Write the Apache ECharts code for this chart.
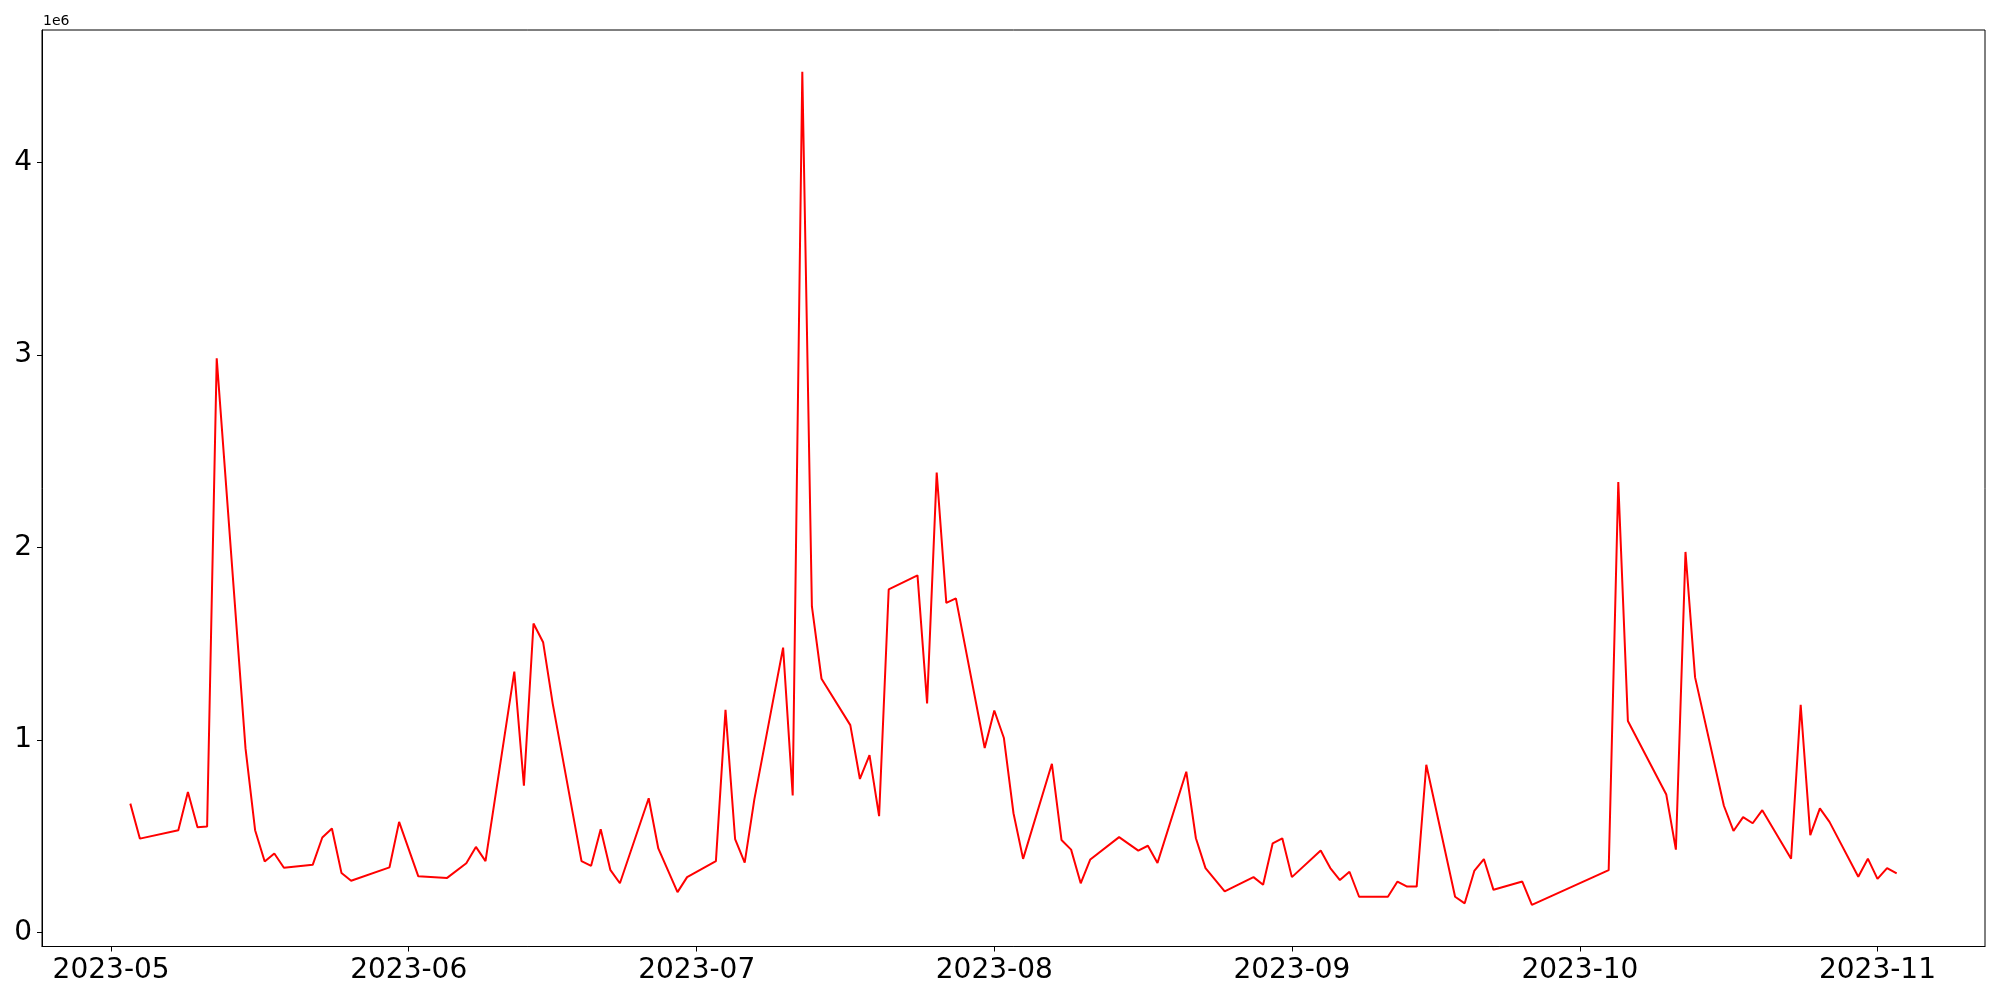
<!DOCTYPE html>
<html>
<head>
<meta charset="utf-8">
<script src="https://cdn.jsdelivr.net/npm/echarts@6/dist/echarts.min.js"></script>
<style>
html,body{margin:0;padding:0;background:#fff;}
#chart{width:2000px;height:1000px;}
</style>
</head>
<body>
<div id="chart"></div>
<script>
// ---- data ----
const dates = [
"2023-05-03","2023-05-04","2023-05-08","2023-05-09","2023-05-10","2023-05-11","2023-05-12",
"2023-05-15","2023-05-16","2023-05-17","2023-05-18","2023-05-19",
"2023-05-22","2023-05-23","2023-05-24","2023-05-25","2023-05-26",
"2023-05-30","2023-05-31","2023-06-02",
"2023-06-05","2023-06-07","2023-06-08","2023-06-09",
"2023-06-12","2023-06-13","2023-06-14","2023-06-15","2023-06-16",
"2023-06-19","2023-06-20","2023-06-21","2023-06-22","2023-06-23",
"2023-06-26","2023-06-27","2023-06-29","2023-06-30",
"2023-07-03","2023-07-04","2023-07-05","2023-07-06","2023-07-07",
"2023-07-10","2023-07-11","2023-07-12","2023-07-13","2023-07-14",
"2023-07-17","2023-07-18","2023-07-19","2023-07-20","2023-07-21",
"2023-07-24","2023-07-25","2023-07-26","2023-07-27","2023-07-28",
"2023-07-31","2023-08-01","2023-08-02","2023-08-03","2023-08-04",
"2023-08-07","2023-08-08","2023-08-09","2023-08-10","2023-08-11",
"2023-08-14","2023-08-16","2023-08-17","2023-08-18",
"2023-08-21","2023-08-22","2023-08-23","2023-08-25",
"2023-08-28","2023-08-29","2023-08-30","2023-08-31","2023-09-01",
"2023-09-04","2023-09-05","2023-09-06","2023-09-07","2023-09-08",
"2023-09-11","2023-09-12","2023-09-13","2023-09-14","2023-09-15",
"2023-09-18","2023-09-19","2023-09-20","2023-09-21","2023-09-22",
"2023-09-25","2023-09-26",
"2023-10-04","2023-10-05","2023-10-06",
"2023-10-10","2023-10-11","2023-10-12","2023-10-13",
"2023-10-16","2023-10-17","2023-10-18","2023-10-19","2023-10-20",
"2023-10-23","2023-10-24","2023-10-25","2023-10-26","2023-10-27",
"2023-10-30","2023-10-31","2023-11-01","2023-11-02","2023-11-03"
];
const values = [
669000,487000,531000,729000,546000,550000,2983000,
956000,531000,368000,410000,336000,
351000,493000,540000,308000,268000,
338000,574000,291000,
283000,359000,444000,370000,
1355000,762000,1605000,1508000,1189000,
370000,346000,536000,325000,255000,
697000,436000,209000,287000,
370000,1156000,485000,362000,690000,
1480000,711000,4473000,1694000,1318000,
1077000,797000,921000,604000,1782000,
1855000,1190000,2389000,1712000,1736000,
958000,1153000,1010000,619000,382000,
876000,480000,430000,255000,379000,
495000,425000,450000,361000,
835000,489000,334000,213000,
287000,247000,463000,489000,287000,
425000,334000,272000,315000,185000,
185000,264000,238000,238000,871000,
185000,151000,319000,381000,221000,
264000,143000,
323000,2340000,1098000,
716000,430000,1977000,1325000,
658000,527000,599000,567000,635000,
383000,1183000,505000,644000,574000,
289000,383000,278000,334000,306000
];
const xTickDates = ["2023-05-01","2023-06-01","2023-07-01","2023-08-01","2023-09-01","2023-10-01","2023-11-01"];
const yTicks = [0, 1000000, 2000000, 3000000, 4000000];
const offsetText = "1e6";

// ---- helpers ----
function ts(s){ const p = s.split('-').map(Number); return Date.UTC(p[0], p[1]-1, p[2]); }
const xs = dates.map(ts);
const seriesData = xs.map((x,i)=>[x, values[i]]);
const xmin0 = Math.min(...xs), xmax0 = Math.max(...xs);
const ymin0 = Math.min(...values), ymax0 = Math.max(...values);
const mx = 0.05*(xmax0-xmin0), my = 0.05*(ymax0-ymin0);
function pad(n){ return (n<10?'0':'')+n; }
const xTickVals = xTickDates.map(ts);

const chart = echarts.init(document.getElementById('chart'), null, {renderer:'canvas'});
const font = 'DejaVu Sans';
chart.setOption({
  animation:false,
  backgroundColor:'#fff',
  grid:{left:42, right:15, top:30, bottom:53.5, show:true, borderColor:'#000', borderWidth:1, backgroundColor:'transparent'},
  xAxis:{
    type:'value',
    min:xmin0-mx, max:xmax0+mx,
    axisLine:{show:true, onZero:false, lineStyle:{color:'#000', width:1}},
    axisTick:{show:true, length:5, inside:false, lineStyle:{color:'#000', width:1}, customValues: xTickVals},
    axisLabel:{show:true, margin:10, fontFamily:font, fontSize:28, color:'#000',
      customValues: xTickVals,
      formatter:function(v){ const d=new Date(v); return d.getUTCFullYear()+'-'+pad(d.getUTCMonth()+1); }},
    splitLine:{show:false}
  },
  yAxis:{
    type:'value',
    min:ymin0-my, max:ymax0+my,
    axisLine:{show:true, onZero:false, lineStyle:{color:'#000', width:1}},
    axisTick:{show:true, length:5, lineStyle:{color:'#000', width:1}, customValues: yTicks},
    axisLabel:{show:true, margin:10, fontFamily:font, fontSize:28, color:'#000',
      customValues: yTicks,
      formatter:function(v){ return String(Math.round(v/1e6)); }},
    splitLine:{show:false}
  },
  graphic:[{type:'text', left:43, top:14, style:{text:offsetText, font:'14px "DejaVu Sans"', fill:'#000'}}],
  series:[{
    type:'line',
    data:seriesData,
    showSymbol:false,
    symbol:'none',
    lineStyle:{color:'#ff0000', width:2},
    itemStyle:{color:'#ff0000'}
  }]
});
</script>
</body>
</html>
